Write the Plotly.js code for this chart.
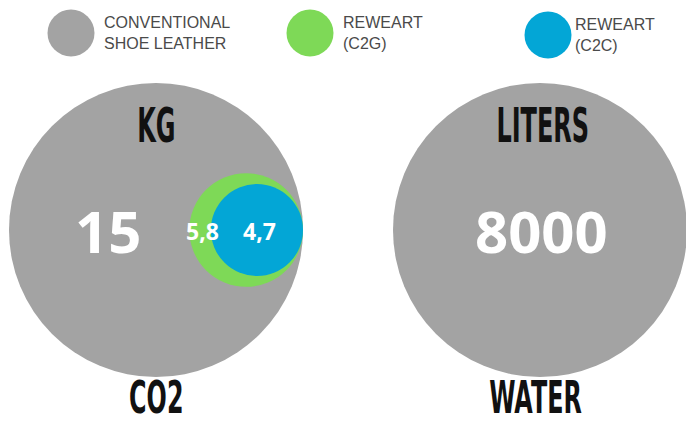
<!DOCTYPE html>
<html>
<head>
<meta charset="utf-8">
<script src="https://cdn.plot.ly/plotly-3.0.1.min.js"></script>
<style>html,body{margin:0;padding:0;background:#fff;}#chart{width:686px;height:424px;}</style>
</head>
<body>
<div id="chart"></div>
<script>
// ---- data ----
const metrics = ['CO2', 'WATER'];
const units = ['KG', 'LITERS'];
const conventional = [15, 8000];
const reweartC2G = [5.8, null];
const reweartC2C = [4.7, null];
const seriesNames = ['CONVENTIONAL<br>SHOE LEATHER', 'REWEART<br>(C2G)', 'REWEART<br>(C2C)'];
const seriesColors = ['#a3a3a3', '#7ed957', '#03a6d6'];

// ---- layout helpers (pixel-like axis units) ----
const W = 686, H = 424;
const panelCx = [156, 540];
const panelCy = 230;
const fullDiam = 294;
const fmt = v => String(v).replace('.', ',');

const traces = [];
const annotations = [];
const condensedIdx = [];

// big circles (conventional)
traces.push({
  type: 'scatter', mode: 'markers', x: panelCx, y: [panelCy, panelCy],
  marker: {size: conventional.map(() => fullDiam), color: seriesColors[0], line: {width: 0}, opacity: 1},
  hoverinfo: 'skip', showlegend: false, cliponaxis: false
});

// reweart circles, sized relative to conventional, right-aligned to big circle edge
function rewearTrace(vals, color) {
  const xs = [], ys = [], ss = [];
  vals.forEach((v, i) => {
    if (v == null) return;
    const d = v / conventional[i] * fullDiam;
    xs.push(panelCx[i] + fullDiam / 2 - d / 2);
    ys.push(panelCy);
    ss.push(d);
  });
  return {type: 'scatter', mode: 'markers', x: xs, y: ys,
    marker: {size: ss, color: color, line: {width: 0}, opacity: 1},
    hoverinfo: 'skip', showlegend: false, cliponaxis: false};
}
traces.push(rewearTrace(reweartC2G, seriesColors[1]));
traces.push(rewearTrace(reweartC2C, seriesColors[2]));

const condensedTop = {family: '"DejaVu Sans", sans-serif', size: 48, color: '#111111', weight: 700};
const condensedBottom = {family: '"DejaVu Sans", sans-serif', size: 45, color: '#111111', weight: 700};
const numFont = (s) => ({family: '"Open Sans", "DejaVu Sans", sans-serif', size: s, color: '#ffffff', weight: 700});

function addCondensed(a, sx) { condensedIdx.push([annotations.length, sx]); annotations.push(a); }

metrics.forEach((m, i) => {
  addCondensed({x: panelCx[i] + (i === 0 ? 0 : 3), y: 125, text: units[i], showarrow: false, font: condensedTop, xanchor: 'center', yanchor: 'middle'}, 0.5);
  addCondensed({x: panelCx[i] - (i === 0 ? 0 : 5), y: 397, text: m, showarrow: false, font: condensedBottom, xanchor: 'center', yanchor: 'middle', borderpad: 0}, 0.53);
  annotations.push({x: i === 0 ? 108 : panelCx[i] + 1, y: 230, text: fmt(conventional[i]), showarrow: false, font: numFont(58), xanchor: 'center', yanchor: 'middle'});
  if (reweartC2G[i] != null) {
    annotations.push({x: 202, y: 231, text: fmt(reweartC2G[i]), showarrow: false, font: numFont(23), xanchor: 'center', yanchor: 'middle'});
  }
  if (reweartC2C[i] != null) {
    annotations.push({x: 259, y: 231, text: fmt(reweartC2C[i]), showarrow: false, font: numFont(23), xanchor: 'center', yanchor: 'middle'});
  }
});

// custom legend
const legX = [71, 310, 548];
const legY = [33, 33, 35];
const legTextX = [102, 341, 573];
traces.push({
  type: 'scatter', mode: 'markers', x: legX, y: legY,
  marker: {size: 47, color: seriesColors, line: {width: 0}},
  hoverinfo: 'skip', showlegend: false, cliponaxis: false
});
seriesNames.forEach((n, i) => {
  annotations.push({x: legTextX[i], y: legY[i], text: n, showarrow: false, align: 'left',
    xanchor: 'left', yanchor: 'middle',
    font: {family: '"Liberation Sans", Arial, sans-serif', size: 16, color: '#4a4a4a'}});
});

const layout = {
  width: W, height: H,
  margin: {l: 0, r: 0, t: 0, b: 0, pad: 0},
  paper_bgcolor: '#ffffff', plot_bgcolor: '#ffffff',
  xaxis: {range: [0, W], visible: false, fixedrange: true},
  yaxis: {range: [H, 0], visible: false, fixedrange: true},
  showlegend: false,
  annotations: annotations
};
Plotly.newPlot('chart', traces, layout, {displayModeBar: false, staticPlot: true}).then(gd => {
  // squeeze the headline labels horizontally to mimic a condensed display face
  condensedIdx.forEach(([idx, sx]) => {
    const t = gd.querySelector('.annotation[data-index="' + idx + '"] text.annotation-text');
    if (!t) return;
    const bb = t.getBBox();
    const cx = bb.x + bb.width / 2;
    t.setAttribute('transform', 'translate(' + cx + ',0) scale(' + sx + ',1) translate(' + (-cx) + ',0)');
  });
});
</script>
</body>
</html>
